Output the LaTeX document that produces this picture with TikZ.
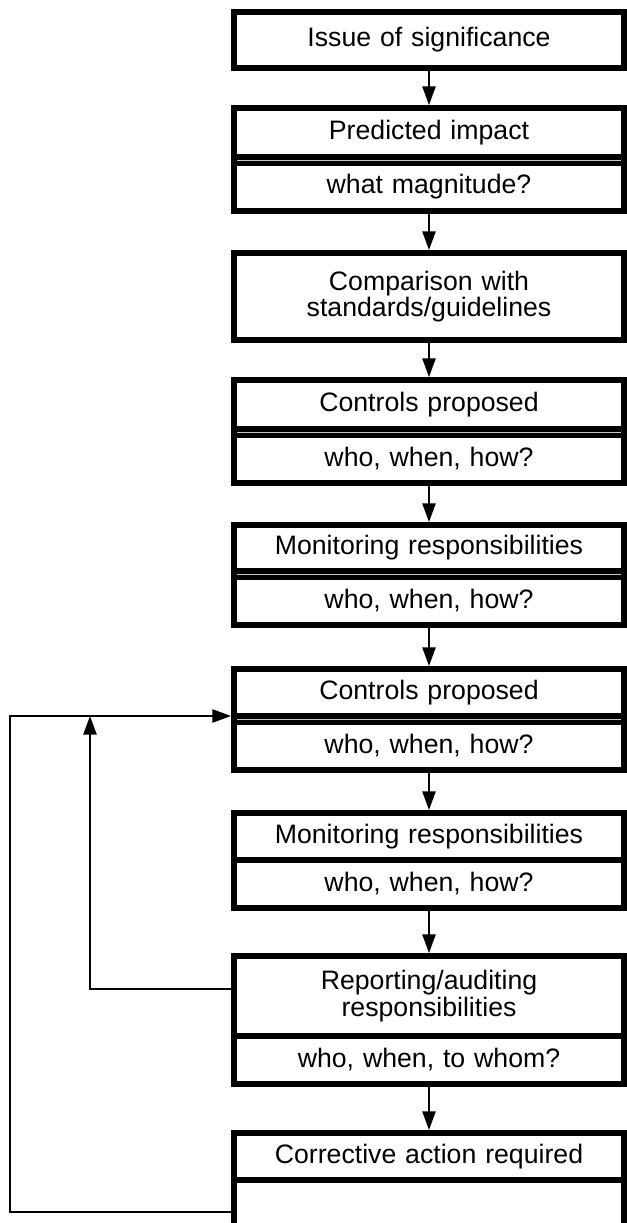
\documentclass[tikz,border=0pt]{standalone}
\usepackage{fontspec}
\setmainfont{Liberation Sans}
\usetikzlibrary{arrows.meta,positioning}

\begin{document}
\begin{tikzpicture}[x=0.75pt, y=-0.75pt,
    stage/.style={draw, line width=4.5pt, outer sep=0pt, minimum width=292.5pt, text width=284pt, inner sep=1pt, align=center, font=\fontsize{20pt}{19.8pt}\selectfont},
    flow/.style={line width=1.1pt, shorten >=2.25pt, -{Triangle[length=14pt,width=10pt]}},
    seam/.style={gray!45, line width=0.7pt}]
    \clip (0,0) rectangle (627,1223);
    \node [stage, minimum height=42pt] (issue) at (429,40) {Issue of significance};
    \node [stage, minimum height=36.75pt] (predA) at (429,132.5) {Predicted impact};
    \node [stage, minimum height=36pt, below=4.5pt of predA] (predB) {what magnitude?};
    \node [stage, minimum height=65.25pt] (comp) at (429,296.5) {Comparison with\\standards/guidelines};
    \node [stage, minimum height=36.75pt] (ctrlA) at (429,404.5) {Controls proposed};
    \node [stage, minimum height=36pt, below=4.5pt of ctrlA] (ctrlAq) {who, when, how?};
    \node [stage, minimum height=34.5pt] (monA) at (429,548) {Monitoring responsibilities};
    \node [stage, minimum height=36pt, below=4.5pt of monA] (monAq) {who, when, how?};
    \node [stage, minimum height=35.25pt] (ctrlB) at (429,692.5) {Controls proposed};
    \node [stage, minimum height=36pt, below=4.5pt of ctrlB] (ctrlBq) {who, when, how?};
    \node [stage, minimum height=35.25pt] (monB) at (429,836.5) {Monitoring responsibilities};
    \node [stage, minimum height=36pt, below=0pt of monB] (monBq) {who, when, how?};
    \node [stage, minimum height=60pt] (rep) at (429,996) {Reporting/auditing\\responsibilities};
    \node [stage, minimum height=36pt, below=0pt of rep] (repq) {who, when, to whom?};
    \node [stage, minimum height=35.25pt] (corr) at (429,1156.5) {Corrective action required};
    \node [stage, minimum height=48pt, below=0pt of corr] (corrq) {};

    \foreach \p in {predA,ctrlA,monA,ctrlB}
        \draw [seam] ([xshift=2.25pt,yshift=-2.25pt]\p.south west) -- ([xshift=-2.25pt,yshift=-2.25pt]\p.south east);

    \foreach \a/\b in {issue/predA, predB/comp, comp/ctrlA, ctrlAq/monA, monAq/ctrlB, ctrlBq/monB, monBq/rep, repq/corr}
        \draw [flow] (\a.south) -- (\b.north);

    \coordinate (fbin) at (90,716);
    \coordinate (fbout) at (10,716);
    \draw [flow, shorten >=0pt] (rep.178) -| (fbin);
    \draw [flow] (corrq.west) -| (fbout) -- (ctrlB.south west);
\end{tikzpicture}
\end{document}
